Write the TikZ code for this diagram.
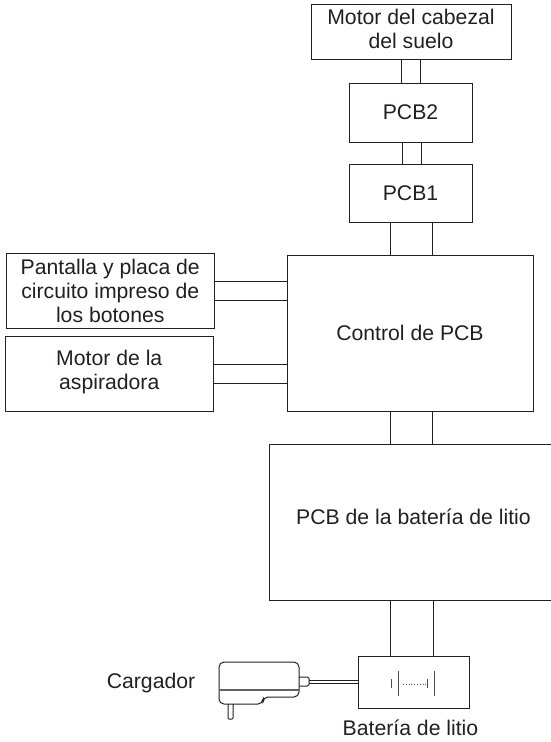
\documentclass[tikz,border=0pt]{standalone}
\usepackage{fontspec}
\setmainfont{Liberation Sans}
\definecolor{inkgray}{HTML}{231F20}
\tikzset{
  blockbox/.style={draw=inkgray,line width=1pt,rectangle,inner sep=0pt,align=center,text=inkgray,
    font=\fontsize{21.2}{24}\selectfont},
  plainlabel/.style={inner sep=0pt,text=inkgray,font=\fontsize{21.2}{24}\selectfont},
  wire/.style={draw=inkgray,line width=1pt}
}
\begin{document}
\begin{tikzpicture}[x=1pt,y=-1pt]
    \useasboundingbox (0,0) rectangle (551,742);

      % Top chain
      \node[blockbox,minimum width=200pt,minimum height=55pt] (head) at (411,31.5) {Motor del cabezal\\del suelo\\[-19pt]};
      \node[blockbox,minimum width=123pt,minimum height=59pt] (pcbtwo) at (410.5,112.5) {PCB2};
      \node[blockbox,minimum width=123pt,minimum height=58pt] (pcbone) at (410.5,193) {PCB1};

      % Centre blocks
      \node[blockbox,minimum width=246pt,minimum height=156pt] (ctrl) at (410,333) {Control de PCB};
      \node[blockbox,minimum width=288pt,minimum height=156pt] (lipcb) at (413.5,522) {PCB de la bater\'ia de litio\\[-14pt]};

      % Left blocks
      \node[blockbox,minimum width=208.5pt,minimum height=75pt] (screen) at (110.25,290.5) {Pantalla y placa de\\circuito impreso de\\los botones};
      \node[blockbox,minimum width=208.5pt,minimum height=75pt] (vacmotor) at (109.25,373.5) {Motor de la\\aspiradora\\[-16pt]};

      % Battery and charger
      \node[blockbox,minimum width=111pt,minimum height=52pt] (cell) at (413.5,682) {};
      \node[plainlabel] (celltext) at (410.5,728) {Bater\'ia de litio};
      \node[plainlabel] (chargertext) at (151,683) {Cargador};

      % Pairs of wires, vertical
      \foreach \a/\b/\s in {head/pcbtwo/-10,head/pcbtwo/9,pcbtwo/pcbone/-8.5,pcbtwo/pcbone/10.5,
                            pcbone/ctrl/-20.5,pcbone/ctrl/22,ctrl/lipcb/-20,ctrl/lipcb/22.7,
                            lipcb/cell/-23.5,lipcb/cell/19.5}
        \draw[wire] ([xshift=\s pt]\a.south) -- ([xshift=\s pt]\a.south |- \b.north);

      % Pairs of wires, horizontal
      \foreach \a/\b/\s in {screen/ctrl/-9.5,screen/ctrl/9.5,vacmotor/ctrl/-9.5,vacmotor/ctrl/9.5}
        \draw[wire] ([yshift=-\s pt]\a.east) -- ([yshift=-\s pt]\a.east -| \b.west);

      % Charger body
      \draw[wire,rounded corners=5pt] (219,690) -- (219,662) -- (299,662) -- (299,697)
        -- (263,697) -- (263,704) -- (219,704) -- cycle;
      \draw[draw=inkgray!70,line width=1.5pt] (219,690) -- (299,690);
      % Plug and stub
      \draw[wire,rounded corners=1pt] (228,704) -- (228,719) -- (233,719) -- (233,704);
      \draw[wire,rounded corners=1.5pt] (299,677) -- (309,677) -- (309,686) -- (299,686);
      \coordinate (jackup) at (309,680);
      \coordinate (jackdown) at (309,683);
      \draw[wire] (jackup) -- (jackup -| cell.west);
      \draw[wire] (jackdown) -- (jackdown -| cell.west);

      % Cell symbol
      \draw[wire,draw=inkgray!80] (391,679) -- (391,688);
      \draw[wire,draw=inkgray!80] (398,671) -- (398,696);
      \draw[wire,draw=inkgray!80] (427,679) -- (427,688);
      \draw[wire,draw=inkgray!80] (434,671) -- (434,696);
      \draw[draw=inkgray!80,line width=0.8pt,dotted] (403,684) -- (426,684);

    \end{tikzpicture}
\end{document}
